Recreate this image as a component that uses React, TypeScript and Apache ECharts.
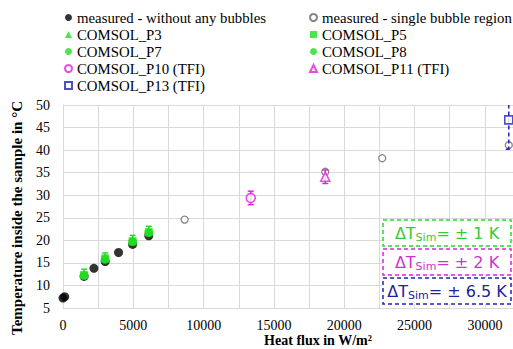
import React, { useEffect, useRef } from "react";
import * as echarts from "echarts";

// measured data (heat flux W/m², temperature °C)
const measuredNoBubbles: number[][] = [
  [0, 7.2], [120, 7.5], [1500, 12.0], [2200, 13.8], [3000, 15.3], [3950, 17.3], [4950, 19.1], [6100, 21.0],
];
const measuredSingleBubble: number[][] = [
  [8650, 24.6], [18650, 35.2], [22700, 38.2], [31700, 41.1],
];
const comsolP3: number[][] = [[1500, 12.6], [3000, 16.2], [4950, 20.1], [6100, 22.1]];
const comsolP5: number[][] = [[1500, 12.3], [3000, 16.0], [4950, 19.8], [6100, 21.8]];
const comsolP7: number[][] = [[1500, 12.2], [3000, 15.8], [4950, 19.7], [6100, 21.7]];
const comsolP8: number[][] = [[1500, 12.4], [3000, 16.1], [4950, 19.9], [6100, 21.9]];
const comsolP10: number[][] = [[13350, 29.4]];
const comsolP11: number[][] = [[18650, 34.1]];
const comsolP13: number[][] = [[31700, 46.7]];

// error half-widths (K)
const errGreen = 1;
const errMagenta = 1.5;
const errBlue = 6.5;

const xTicks = [0, 5000, 10000, 15000, 20000, 25000, 30000];

const legendLeft = ["measured - without any bubbles", "COMSOL_P3", "COMSOL_P7", "COMSOL_P10 (TFI)", "COMSOL_P13 (TFI)"];
const legendRight = ["measured - single bubble region", "COMSOL_P5", "COMSOL_P8", "COMSOL_P11 (TFI)"];

const GREEN = "#22dd22";
const MAGENTA = "#e020e0";
const BLUE = "#2222bb";
const SERIF = "'Liberation Serif', 'DejaVu Serif', serif";

function errSeries(name: string, pts: number[][], err: number, color: string, dashed: boolean) {
  return {
    type: "custom",
    name,
    clip: true,
    z: 3,
    data: pts.map((p) => [p[0], p[1], err]),
    renderItem: (params: any, api: any) => {
      const x = api.value(0);
      const y = api.value(1);
      const e = api.value(2);
      const top = api.coord([x, y + e]);
      const bot = api.coord([x, y - e]);
      const style = { stroke: color, lineWidth: 1.5, lineDash: dashed ? [4, 3] : undefined };
      return {
        type: "group",
        children: [
          { type: "line", shape: { x1: top[0], y1: top[1], x2: bot[0], y2: bot[1] }, style },
          { type: "line", shape: { x1: top[0] - 3, y1: top[1], x2: top[0] + 3, y2: top[1] }, style },
          { type: "line", shape: { x1: bot[0] - 3, y1: bot[1], x2: bot[0] + 3, y2: bot[1] }, style },
        ],
      };
    },
  };
}

function boxText(color: string, value: string) {
  return {
    type: "text",
    style: {
      text: `{a|ΔT}{s|Sim}{a|= ± ${value} K}`,
      rich: {
        a: { fontFamily: "'DejaVu Sans', sans-serif", fontSize: 16, fill: color },
        s: { fontFamily: "'DejaVu Sans', sans-serif", fontSize: 11, fill: color, padding: [8, 0, 0, 0] },
      },
    },
  };
}

export default function App() {
  const ref = useRef<HTMLDivElement>(null);
  useEffect(() => {
    if (!ref.current) return;
    const chart = echarts.init(ref.current, undefined, { renderer: "svg" });
    const legendText = { fontFamily: SERIF, fontSize: 14.8, color: "#000" };
    const boxes = [
      { top: 220, color: GREEN, textColor: "#33cc33", v: "1" },
      { top: 249, color: MAGENTA, textColor: "#cc33cc", v: "2" },
      { top: 278, color: BLUE, textColor: "#222299", v: "6.5" },
    ];
    const graphic: any[] = [];
    boxes.forEach((b) => {
      graphic.push({
        type: "rect",
        shape: { x: 383, y: b.top, width: 128, height: 26 },
        style: { fill: "#fff", stroke: b.color, lineWidth: 1.5, lineDash: [4, 3] },
        z: 100,
      });
      const t: any = boxText(b.textColor, b.v);
      t.x = 447;
      t.y = b.top + 13;
      t.style.align = "center";
      t.style.verticalAlign = "middle";
      t.z = 101;
      graphic.push(t);
    });
    graphic.push({
      type: "text",
      x: 318,
      y: 340,
      style: {
        text: "Heat flux in W/m²",
        fontFamily: SERIF,
        fontSize: 14,
        fontWeight: "bold",
        fill: "#000",
        align: "center",
        verticalAlign: "middle",
      },
    });
    graphic.push({
      type: "text",
      x: 17,
      y: 218,
      rotation: Math.PI / 2,
      style: {
        text: "Temperature inside the sample in °C",
        fontFamily: SERIF,
        fontSize: 15,
        fontWeight: "bold",
        fill: "#000",
        align: "center",
        verticalAlign: "middle",
      },
    });

    chart.setOption({
      animation: false,
      backgroundColor: "#fff",
      grid: { left: 63, right: 0, top: 105, bottom: 41 },
      legend: [
        {
          left: 59,
          top: 5,
          orient: "vertical",
          itemWidth: 7,
          itemHeight: 7,
          itemGap: 2,
          textStyle: legendText,
          data: legendLeft,
        },
        {
          left: 304,
          top: 5,
          orient: "vertical",
          itemWidth: 7,
          itemHeight: 7,
          itemGap: 2,
          textStyle: legendText,
          data: legendRight,
        },
      ],
      xAxis: {
        type: "value",
        min: 0,
        max: 32000,
        interval: 2500,
        axisLine: { show: true, lineStyle: { color: "#d9d9d9" } },
        axisTick: { show: false },
        splitLine: { show: true, lineStyle: { color: "#d9d9d9" } },
        axisLabel: {
          fontFamily: SERIF,
          fontSize: 14,
          color: "#000",
          margin: 10,
          showMaxLabel: false,
          formatter: (v: number) => (xTicks.includes(v) ? String(v) : ""),
        },
      },
      yAxis: {
        type: "value",
        min: 5,
        max: 50,
        interval: 5,
        axisLine: { show: true, lineStyle: { color: "#d9d9d9" } },
        axisTick: { show: false },
        splitLine: { show: true, lineStyle: { color: "#d9d9d9" } },
        axisLabel: { fontFamily: SERIF, fontSize: 14, color: "#000", margin: 13 },
      },
      graphic,
      series: [
        {
          type: "scatter",
          name: "measured - without any bubbles",
          data: measuredNoBubbles,
          symbol: "circle",
          symbolSize: 9,
          itemStyle: { color: "#000" },
          z: 2,
        },
        {
          type: "scatter",
          name: "measured - single bubble region",
          data: measuredSingleBubble,
          symbol: "circle",
          symbolSize: 7,
          itemStyle: { color: "#fff", borderColor: "#666", borderWidth: 1.3 },
          z: 2,
        },
        errSeries("errP3", comsolP3, errGreen, GREEN, false),
        {
          type: "scatter",
          name: "COMSOL_P3",
          data: comsolP3,
          symbol: "triangle",
          symbolSize: 8,
          itemStyle: { color: GREEN },
          z: 4,
        },
        {
          type: "scatter",
          name: "COMSOL_P5",
          data: comsolP5,
          symbol: "rect",
          symbolSize: 8,
          itemStyle: { color: GREEN },
          z: 4,
        },
        {
          type: "scatter",
          name: "COMSOL_P7",
          data: comsolP7,
          symbol: "circle",
          symbolSize: 9,
          itemStyle: { color: GREEN },
          z: 4,
        },
        {
          type: "scatter",
          name: "COMSOL_P8",
          data: comsolP8,
          symbol: "circle",
          symbolSize: 6,
          itemStyle: { color: GREEN },
          z: 4,
        },
        errSeries("errP10", comsolP10, errMagenta, MAGENTA, false),
        {
          type: "scatter",
          name: "COMSOL_P10 (TFI)",
          data: comsolP10,
          symbol: "circle",
          symbolSize: 9,
          itemStyle: { color: "#fff", borderColor: MAGENTA, borderWidth: 1.6 },
          z: 4,
        },
        errSeries("errP11", comsolP11, errMagenta, MAGENTA, false),
        {
          type: "scatter",
          name: "COMSOL_P11 (TFI)",
          data: comsolP11,
          symbol: "triangle",
          symbolSize: 9,
          itemStyle: { color: "#fff", borderColor: MAGENTA, borderWidth: 1.6 },
          z: 4,
        },
        errSeries("errP13", comsolP13, errBlue, BLUE, true),
        {
          type: "scatter",
          name: "COMSOL_P13 (TFI)",
          data: comsolP13,
          symbol: "rect",
          symbolSize: 8,
          itemStyle: { color: "#fff", borderColor: BLUE, borderWidth: 1.6 },
          z: 4,
        },
      ],
    });
    return () => chart.dispose();
  }, []);
  return (
    <div
      ref={ref}
      style={{ position: "fixed", left: 0, top: 0, width: 513, height: 349, background: "#fff" }}
    />
  );
}
